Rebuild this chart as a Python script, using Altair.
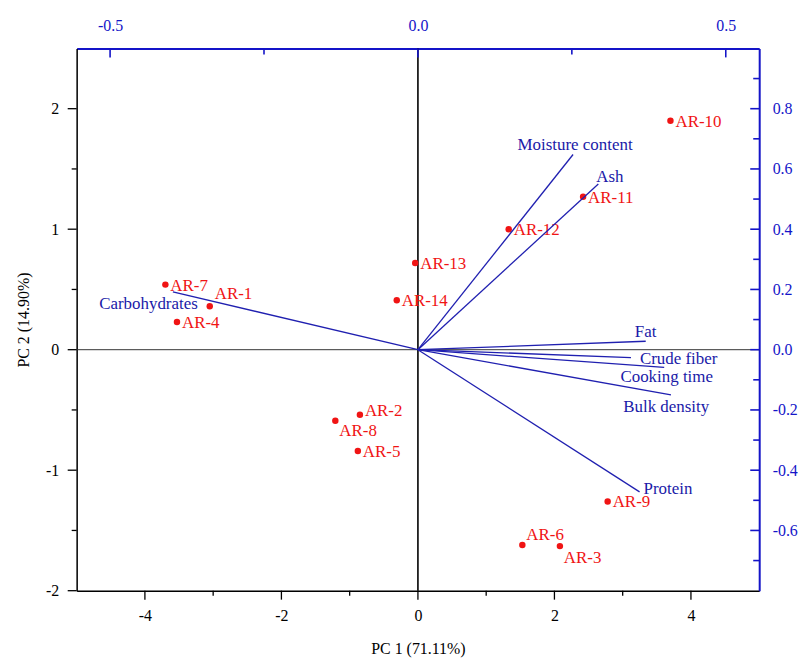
import altair as alt
import pandas as pd

# ---- data ----
samples = ["AR-1", "AR-2", "AR-3", "AR-4", "AR-5", "AR-6", "AR-7",
           "AR-8", "AR-9", "AR-10", "AR-11", "AR-12", "AR-13", "AR-14"]
pc1 = [-3.05, -0.85, 2.08, -3.53, -0.88, 1.53, -3.70,
       -1.21, 2.78, 3.70, 2.42, 1.33, -0.04, -0.31]
pc2 = [0.36, -0.54, -1.63, 0.23, -0.84, -1.62, 0.54,
       -0.59, -1.26, 1.90, 1.27, 1.00, 0.72, 0.41]

variables = ["Moisture content", "Ash", "Fat", "Crude fiber",
             "Cooking time", "Bulk density", "Protein", "Carbohydrates"]
load1 = [0.252, 0.293, 0.370, 0.346, 0.400, 0.411, 0.360, -0.398]
load2 = [0.648, 0.550, 0.028, -0.026, -0.059, -0.150, -0.472, 0.192]

x_major = [-4, -2, 0, 2, 4]
x_minor = [-3, -1, 1, 3]
y_major = [-2, -1, 0, 1, 2]
y_minor = [-1.5, -0.5, 0.5, 1.5]
top_major = [-0.5, 0.0, 0.5]
top_minor = [-0.25, 0.25]
right_major = [-0.6, -0.4, -0.2, 0.0, 0.2, 0.4, 0.6, 0.8]
right_minor = [-0.7, -0.5, -0.3, -0.1, 0.1, 0.3, 0.5, 0.7, 0.9]

scores = pd.DataFrame({"sample": samples, "pc1": pc1, "pc2": pc2})
loads = pd.DataFrame({"var": variables, "l1": load1, "l2": load2})

# ---- style ----
W, H = 686, 545
FONT = "Liberation Serif"
BLUE_AX = "#1414c8"
BLUE_LN = "#2020b0"
BLUE_TX = "#1a1aa8"
RED = "#f01414"
MAJ, MIN = 9, 5

INT_LBL = "datum.value < 0 ? '-' + format(-datum.value, 'd') : format(datum.value, 'd')"
DEC_LBL = "datum.value < -1e-9 ? '-' + format(-datum.value, '.1f') : format(abs(datum.value), '.1f')"

xs = alt.Scale(domain=[-5, 5], nice=False, zero=False)
ys = alt.Scale(domain=[-2, 2.5], nice=False, zero=False)
xs2 = alt.Scale(domain=[-0.5543, 0.5543], nice=False, zero=False)
ys2 = alt.Scale(domain=[-0.8, 1.0], nice=False, zero=False)

xaxis = alt.Axis(title="PC 1 (71.11%)", values=x_major, ticks=False, grid=False,
                 domainColor="black", domainWidth=1.5, labelPadding=17,
                 labelFont=FONT, labelFontSize=16, labelColor="black", labelExpr=INT_LBL,
                 titleFont=FONT, titleFontSize=16, titleFontWeight="normal",
                 titleColor="black", titlePadding=17)
yaxis = alt.Axis(title="PC 2 (14.90%)", values=y_major, ticks=False, grid=False,
                 domainColor="black", domainWidth=1.5, labelPadding=18,
                 labelFont=FONT, labelFontSize=16, labelColor="black", labelExpr=INT_LBL,
                 titleFont=FONT, titleFontSize=16, titleFontWeight="normal",
                 titleColor="black", titlePadding=14)
xaxis2 = alt.Axis(title=None, orient="top", values=top_major, ticks=False, grid=False,
                  domainColor=BLUE_AX, domainWidth=2, labelPadding=15,
                  labelFont=FONT, labelFontSize=16, labelColor=BLUE_AX, labelExpr=DEC_LBL)
yaxis2 = alt.Axis(title=None, orient="right", values=right_major, ticks=False, grid=False,
                  domainColor=BLUE_AX, domainWidth=2, labelPadding=13,
                  labelFont=FONT, labelFontSize=16, labelColor=BLUE_AX, labelExpr=DEC_LBL)


def X(f): return alt.X(f, scale=xs, axis=xaxis)
def Y(f): return alt.Y(f, scale=ys, axis=yaxis)
def X2(f): return alt.X(f, scale=xs2, axis=xaxis2)
def Y2(f): return alt.Y(f, scale=ys2, axis=yaxis2)


# ---- primary layers ----
origin = pd.DataFrame({"o": [0]})
zero_v = alt.Chart(origin).mark_rule(color="black", strokeWidth=1.6).encode(x=X("o:Q"))
zero_h = alt.Chart(origin).mark_rule(color="#333333", strokeWidth=1).encode(y=Y("o:Q"))

def tick_layer(vals, enc):
    return alt.Chart(pd.DataFrame({"v": vals})).mark_rule(color="black", strokeWidth=1.3).encode(**enc)

bt_maj = tick_layer(x_major, dict(x=X("v:Q"), y=alt.value(H), y2=alt.value(H + MAJ)))
bt_min = tick_layer(x_minor, dict(x=X("v:Q"), y=alt.value(H), y2=alt.value(H + MIN)))
lt_maj = tick_layer(y_major, dict(y=Y("v:Q"), x=alt.value(0), x2=alt.value(-MAJ)))
lt_min = tick_layer(y_minor, dict(y=Y("v:Q"), x=alt.value(0), x2=alt.value(-MIN)))

points = alt.Chart(scores).mark_circle(color=RED, size=42, opacity=1).encode(
    x=X("pc1:Q"), y=Y("pc2:Q"))

special = {"AR-1": (5, -12), "AR-8": (4, 10), "AR-6": (4, -10), "AR-3": (4, 12), "AR-2": (5, -4)}
label_layers = []
default_names = [s for s in samples if s not in special]
label_layers.append(
    alt.Chart(scores).transform_filter(alt.FieldOneOfPredicate(field="sample", oneOf=default_names))
    .mark_text(align="left", baseline="middle", dx=5, dy=1, font=FONT, fontSize=17, color=RED)
    .encode(x=X("pc1:Q"), y=Y("pc2:Q"), text="sample:N"))
for name, (dx, dy) in special.items():
    label_layers.append(
        alt.Chart(scores).transform_filter(alt.FieldEqualPredicate(field="sample", equal=name))
        .mark_text(align="left", baseline="middle", dx=dx, dy=dy, font=FONT, fontSize=17, color=RED)
        .encode(x=X("pc1:Q"), y=Y("pc2:Q"), text="sample:N"))

primary = alt.layer(zero_h, zero_v, bt_maj, bt_min, lt_maj, lt_min, points, *label_layers)

# ---- secondary (loadings) layers ----
arrows = alt.Chart(loads).transform_calculate(o="0").mark_rule(color=BLUE_LN, strokeWidth=1.3).encode(
    x=X2("o:Q"), x2="l1:Q", y=Y2("o:Q"), y2="l2:Q")

def tick2_layer(vals, enc):
    return alt.Chart(pd.DataFrame({"v": vals})).mark_rule(color=BLUE_AX, strokeWidth=1.6).encode(**enc)

tt_maj = tick2_layer(top_major, dict(x=X2("v:Q"), y=alt.value(0), y2=alt.value(MAJ)))
tt_min = tick2_layer(top_minor, dict(x=X2("v:Q"), y=alt.value(0), y2=alt.value(MIN + 1)))
rt_maj = tick2_layer(right_major, dict(y=Y2("v:Q"), x=alt.value(W), x2=alt.value(W - MAJ)))
rt_min = tick2_layer(right_minor, dict(y=Y2("v:Q"), x=alt.value(W), x2=alt.value(W - MIN - 1)))

var_place = {
    "Moisture content": ("center", 2, -10),
    "Ash": ("left", -2, -7),
    "Fat": ("left", -11, -9),
    "Crude fiber": ("left", 9, 2),
    "Cooking time": ("left", -44, 10),
    "Bulk density": ("left", -48, 12),
    "Protein": ("left", 4, -3),
    "Carbohydrates": ("right", 25, 12),
}
var_layers = []
for name, (al, dx, dy) in var_place.items():
    var_layers.append(
        alt.Chart(loads).transform_filter(alt.FieldEqualPredicate(field="var", equal=name))
        .mark_text(align=al, baseline="middle", dx=dx, dy=dy, font=FONT, fontSize=17, color=BLUE_TX)
        .encode(x=X2("l1:Q"), y=Y2("l2:Q"), text="var:N"))

secondary = alt.layer(arrows, tt_maj, tt_min, rt_maj, rt_min, *var_layers)

chart = alt.layer(primary, secondary).resolve_scale(
    x="independent", y="independent"
).properties(
    width=W, height=H, padding={"left": 7, "top": 8, "right": 0, "bottom": 0}
).configure_view(stroke=None).configure(background="white")

chart.save("out.html", embed_options={"renderer": "svg", "actions": False})
